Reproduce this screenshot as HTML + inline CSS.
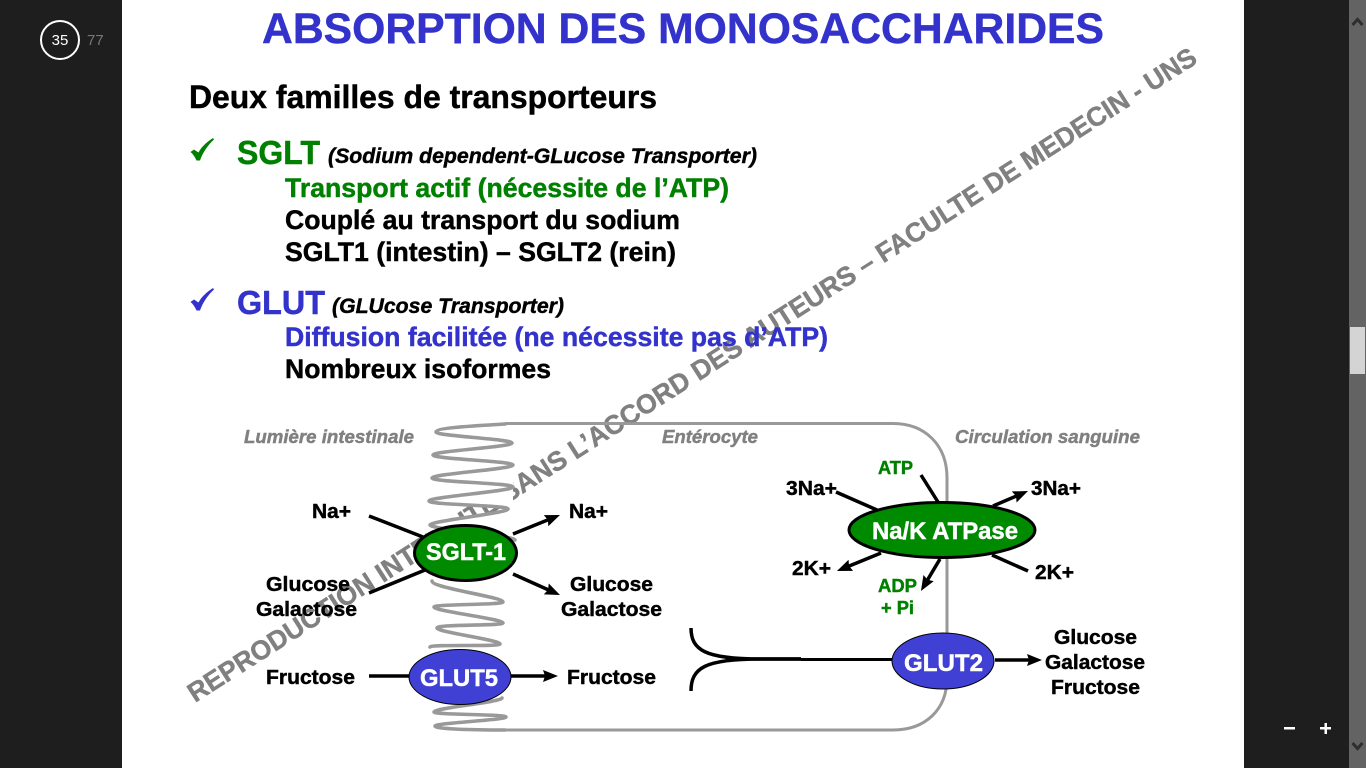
<!DOCTYPE html>
<html lang="fr"><head><meta charset="utf-8"><title>Absorption des monosaccharides</title>
<style>html,body{margin:0;padding:0;width:1366px;height:768px;overflow:hidden;background:#1e1e1e}svg{display:block}text{font-family:"Liberation Sans",Arial,sans-serif;font-weight:bold;stroke-width:.45px}.k{fill:#000;stroke:#000}.gr{fill:#008000;stroke:#008000}.bl{fill:#3333cc;stroke:#3333cc}.b{font-size:27px}.l{font-size:20.5px;fill:#000;stroke:#000}.g{font-size:18.5px;fill:#808080;stroke:#808080;font-style:italic}.e{font-size:24px;fill:#fff;stroke:#fff}.s{font-size:18.5px;fill:#008000;stroke:#008000}</style></head><body>
<svg width="1366" height="768" viewBox="0 0 1366 768" xmlns="http://www.w3.org/2000/svg">
<defs><marker id="a" markerUnits="userSpaceOnUse" markerWidth="16" markerHeight="14" refX="9" refY="6" orient="auto"><path d="M0 0L15 6L0 12L2 6Z" fill="#000"/></marker></defs>
<rect width="1366" height="768" fill="#1e1e1e"/>
<rect x="122" width="1122" height="768" fill="#fff"/>
<rect x="1349" width="17" height="768" fill="#636363"/>
<rect x="1350" y="327" width="15" height="47" fill="#d4d4d4"/>
<path d="M1352.5 25L1357.5 19.5L1362.5 25" fill="none" stroke="#2e2e2e" stroke-width="3"/>
<path d="M1352.5 743L1357.5 748.5L1362.5 743" fill="none" stroke="#2e2e2e" stroke-width="3"/>
<rect x="1284" y="727" width="11" height="2.5" fill="#fff"/>
<rect x="1320" y="727" width="11" height="2.5" fill="#fff"/><rect x="1324.5" y="723" width="2.5" height="11" fill="#fff"/>
<circle cx="60" cy="40" r="19" fill="none" stroke="#fff" stroke-width="2"/>
<text x="60" y="45" text-anchor="middle" fill="#fff" style="font-weight:normal;font-size:15px">35</text>
<text x="87" y="45" fill="#777" style="font-weight:normal;font-size:15px">77</text>

<text transform="translate(195 703) rotate(-32.56)" x="0" y="0" fill="#808080" stroke="#808080" style="font-size:27px" textLength="1191" lengthAdjust="spacingAndGlyphs">REPRODUCTION INTERDITE SANS L’ACCORD DES AUTEURS – FACULTE DE MEDECIN - UNS</text>
<polygon points="513,470 420,470 420,501 429,501 508,509 513,509" fill="#fff"/>
<polygon points="430,525 508,509 520,509 520,560 414,560" fill="#fff"/>

<text x="262" y="43" class="bl" style="font-size:43px" textLength="842" lengthAdjust="spacingAndGlyphs">ABSORPTION DES MONOSACCHARIDES</text>
<text x="189" y="108" class="k" style="font-size:32px" textLength="468" lengthAdjust="spacingAndGlyphs">Deux familles de transporteurs</text>

<path d="M190.5 152L194 149.5L198.5 152.5C202 146 207 142 213 138L214 139.5C208 145 203 152 200 160.5L196.5 160.5C195 157 193 154 190.5 152Z" fill="#008000"/>
<text x="237" y="164" class="gr" style="font-size:33px" textLength="83" lengthAdjust="spacingAndGlyphs">SGLT</text>
<text x="328" y="163" class="k" style="font-size:21px;font-style:italic" textLength="429" lengthAdjust="spacingAndGlyphs">(Sodium dependent-GLucose Transporter)</text>
<text x="285" y="197" class="b gr" textLength="444" lengthAdjust="spacingAndGlyphs">Transport actif (nécessite de l’ATP)</text>
<text x="285" y="229" class="b k" textLength="395" lengthAdjust="spacingAndGlyphs">Couplé au transport du sodium</text>
<text x="285" y="261" class="b k" textLength="391" lengthAdjust="spacingAndGlyphs">SGLT1 (intestin) – SGLT2 (rein)</text>

<path transform="translate(0 150)" d="M190.5 152L194 149.5L198.5 152.5C202 146 207 142 213 138L214 139.5C208 145 203 152 200 160.5L196.5 160.5C195 157 193 154 190.5 152Z" fill="#3333cc"/>
<text x="237" y="314" class="bl" style="font-size:33px" textLength="88" lengthAdjust="spacingAndGlyphs">GLUT</text>
<text x="332" y="313" class="k" style="font-size:21px;font-style:italic" textLength="232" lengthAdjust="spacingAndGlyphs">(GLUcose Transporter)</text>
<text x="285" y="346" class="b bl" textLength="543" lengthAdjust="spacingAndGlyphs">Diffusion facilitée (ne nécessite pas d’ATP)</text>
<text x="285" y="378" class="b k" textLength="266" lengthAdjust="spacingAndGlyphs">Nombreux isoformes</text>

<path d="M505 423.5H893C925 423.5 947 445 947 478V678C947 710 925 730 893 730H505" fill="none" stroke="#999" stroke-width="3"/>
<path d="M505 424C470 426 436 428 436 432C436 436 512 439 512 443C512 447 433 451 433 455C433 459 513 461 513 465C513 469 432 474 432 478C432 482 513 483 513 487C513 491 429 497 429 501C429 505 508 505 508 509C508 513 430 521 430 525C430 529 515 536 515 540M432 581C432 588 503 597 503 602C503 605 434 604 434 607C434 611 503 619 503 623C503 626 437 624 437 628C437 632 500 640 500 644C500 647 430 644 430 647M502 698C502 702 434 708 434 712C434 715 506 714 506 717C506 720 435 723 435 726C435 729 470 730 505 730" fill="none" stroke="#999" stroke-width="3.6" stroke-linecap="round"/>

<g stroke="#000" stroke-width="3.5" fill="none">
<path d="M369 516L423 537"/><path d="M369 593L425 570"/>
<path d="M513 534L554.4 517.3" marker-end="url(#a)"/><path d="M513 574L554.5 592.6" marker-end="url(#a)"/>
<path d="M369 676H410"/><path d="M511 676H552" marker-end="url(#a)"/>
<path d="M921 475L938 502"/><path d="M836 492L877 510"/>
<path d="M993 506L1022.5 493.4" marker-end="url(#a)"/><path d="M881 553L842.5 568.7" marker-end="url(#a)"/>
<path d="M940 559L924 585.8" marker-end="url(#a)"/><path d="M992 555L1028 571"/>
<path d="M691 628C691 650 705 659 760 659H801"/><path d="M691 691C691 668 705 659 760 659H801"/>
<path d="M801 659.5H893" stroke-width="3"/>
<path d="M995 660H1036" marker-end="url(#a)"/>
</g>

<ellipse cx="465.5" cy="553" rx="51" ry="27.5" fill="#008a00" stroke="#000" stroke-width="3"/>
<ellipse cx="460" cy="677" rx="51" ry="27.5" fill="#4040d4" stroke="#000" stroke-width="1"/>
<ellipse cx="942" cy="530" rx="93" ry="27.5" fill="#008a00" stroke="#000" stroke-width="3"/>
<ellipse cx="943" cy="661" rx="51" ry="28" fill="#4040d4" stroke="#000" stroke-width="1"/>

<text x="426" y="560" class="e" textLength="80" lengthAdjust="spacingAndGlyphs">SGLT-1</text>
<text x="420" y="686" class="e" textLength="78" lengthAdjust="spacingAndGlyphs">GLUT5</text>
<text x="872" y="539" class="e" textLength="146" lengthAdjust="spacingAndGlyphs">Na/K ATPase</text>
<text x="904" y="671" class="e" textLength="79" lengthAdjust="spacingAndGlyphs">GLUT2</text>

<text x="244" y="443" class="g" textLength="170" lengthAdjust="spacingAndGlyphs">Lumière intestinale</text>
<text x="662" y="443" class="g" textLength="96" lengthAdjust="spacingAndGlyphs">Entérocyte</text>
<text x="955" y="443" class="g" textLength="185" lengthAdjust="spacingAndGlyphs">Circulation sanguine</text>

<text x="312" y="518" class="l" textLength="39" lengthAdjust="spacingAndGlyphs">Na+</text>
<text x="569" y="518" class="l" textLength="39" lengthAdjust="spacingAndGlyphs">Na+</text>
<text x="266" y="591" class="l" textLength="84" lengthAdjust="spacingAndGlyphs">Glucose</text>
<text x="256" y="616" class="l" textLength="101" lengthAdjust="spacingAndGlyphs">Galactose</text>
<text x="570" y="591" class="l" textLength="83" lengthAdjust="spacingAndGlyphs">Glucose</text>
<text x="561" y="616" class="l" textLength="101" lengthAdjust="spacingAndGlyphs">Galactose</text>
<text x="266" y="684" class="l" textLength="89" lengthAdjust="spacingAndGlyphs">Fructose</text>
<text x="567" y="684" class="l" textLength="89" lengthAdjust="spacingAndGlyphs">Fructose</text>
<text x="786" y="495" class="l" textLength="51" lengthAdjust="spacingAndGlyphs">3Na+</text>
<text x="1031" y="495" class="l" textLength="50" lengthAdjust="spacingAndGlyphs">3Na+</text>
<text x="792" y="575" class="l" textLength="39" lengthAdjust="spacingAndGlyphs">2K+</text>
<text x="1035" y="579" class="l" textLength="39" lengthAdjust="spacingAndGlyphs">2K+</text>
<text x="878" y="474" class="s" textLength="35" lengthAdjust="spacingAndGlyphs">ATP</text>
<text x="878" y="592" class="s" textLength="39" lengthAdjust="spacingAndGlyphs">ADP</text>
<text x="881" y="614" class="s" textLength="33" lengthAdjust="spacingAndGlyphs">+ Pi</text>
<text x="1054" y="644" class="l" textLength="83" lengthAdjust="spacingAndGlyphs">Glucose</text>
<text x="1045" y="669" class="l" textLength="100" lengthAdjust="spacingAndGlyphs">Galactose</text>
<text x="1051" y="694" class="l" textLength="89" lengthAdjust="spacingAndGlyphs">Fructose</text>
</svg>
</body></html>
